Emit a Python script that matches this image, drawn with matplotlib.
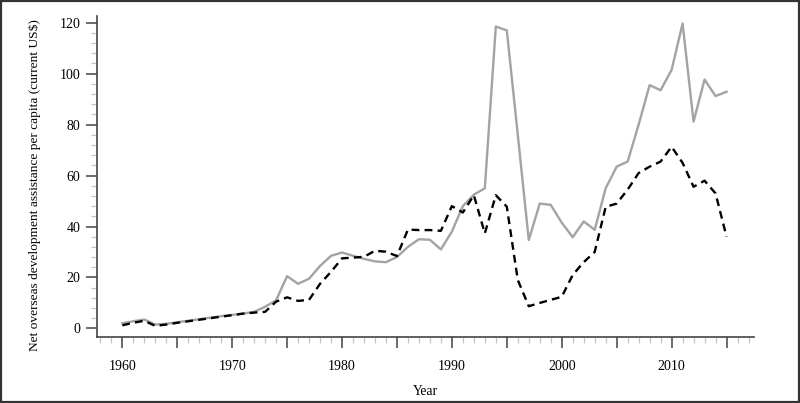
import matplotlib
matplotlib.use("Agg")
import matplotlib.pyplot as plt
from matplotlib.patches import Rectangle

years = list(range(1960, 2016))

# solid grey series
oda_grey = [2.0, 2.8, 3.5, 1.5, 1.8, 2.4, 3.0, 3.6, 4.2, 4.8,
            5.3, 5.8, 6.5, 8.5, 11.0, 20.5, 17.5, 19.5, 24.5, 28.5,
            29.8, 28.5, 27.3, 26.3, 26.0, 28.0, 32.0, 35.0, 34.8, 31.0,
            38.0, 48.0, 52.5, 55.0, 118.5, 117.0, 76.0, 34.7, 49.0, 48.5,
            41.5, 35.8, 42.0, 38.7, 55.0, 63.5, 65.5, 80.0, 95.5, 93.5,
            101.5, 119.7, 81.2, 97.7, 91.2, 92.9]

# dashed black series
oda_dash = [1.2, 2.2, 3.0, 1.0, 1.5, 2.2, 2.8, 3.4, 4.0, 4.6,
            5.2, 5.8, 6.2, 6.5, 10.5, 12.2, 10.8, 11.2, 17.5, 22.2,
            27.5, 27.8, 28.1, 30.5, 30.1, 28.4, 38.8, 38.6, 38.6, 38.3,
            48.0, 45.5, 52.3, 37.3, 52.3, 47.8, 19.0, 8.7, 10.0, 11.2,
            12.4, 21.0, 26.0, 30.0, 47.7, 49.0, 54.5, 61.0, 63.5, 65.5,
            71.3, 65.0, 55.6, 58.0, 53.0, 36.0]

x_major = list(range(1960, 2016, 5))
x_labels = ["1960", "", "1970", "", "1980", "", "1990", "", "2000", "", "2010", ""]
y_major = [0, 20, 40, 60, 80, 100, 120]

plt.rcParams["font.family"] = ["Liberation Serif", "DejaVu Serif"]

fig = plt.figure(figsize=(8, 4.03), dpi=100)
ax = fig.add_axes([0.12125, 0.163, 0.82125, 0.797])

ax.plot(years, oda_grey, color="#a3a3a3", lw=1.7)
ax.plot(years, oda_dash, color="black", lw=1.7, linestyle=(0, (3.3, 2.2)))

ax.set_xlim(1957.7, 2017.5)
ax.set_ylim(-3.5, 122.6)

for s in ["top", "right"]:
    ax.spines[s].set_visible(False)
for s in ["left", "bottom"]:
    ax.spines[s].set_color("#444444")
    ax.spines[s].set_linewidth(1.2)

ax.set_xticks(x_major)
ax.set_xticklabels(x_labels)
ax.set_xticks([y for y in range(1958, 2018) if y % 5 != 0], minor=True)
ax.set_yticks(y_major)
ax.set_yticks([v for v in range(4, 120, 4) if v % 20 != 0], minor=True)

ax.tick_params(which="major", length=8, width=1.1, color="#444444",
               labelsize=10, pad=4)
ax.tick_params(which="minor", length=4.5, width=0.9, color="#c4c4c4")
ax.tick_params(axis="x", which="major", pad=8)

ax.set_xlabel("Year", fontsize=9.8, labelpad=9)
ax.set_ylabel("Net overseas development assistance per capita (current US$)",
              fontsize=9.6)
ax.yaxis.set_label_coords(-0.085, 0.474)

fig.patches.append(Rectangle((0.0015, 0.003), 0.997, 0.994, transform=fig.transFigure,
                             fill=False, edgecolor="#333333", lw=1.6))

fig.savefig("out.png", dpi=100)
